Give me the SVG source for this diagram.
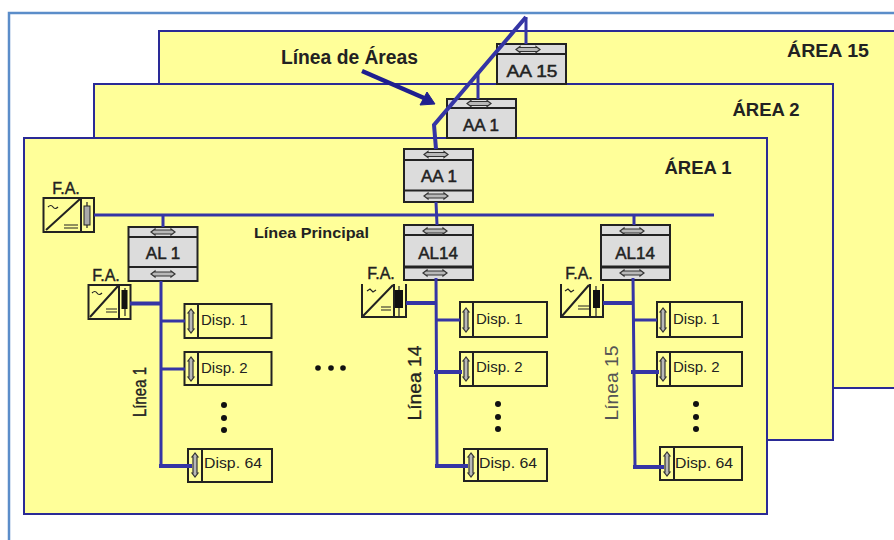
<svg xmlns="http://www.w3.org/2000/svg" width="894" height="540" viewBox="0 0 894 540">
<style>
text{font-family:"Liberation Sans",Arial,sans-serif;fill:#222}
.area{fill:#ffff99;stroke:#2a2a96;stroke-width:2}
.box{fill:#dcdcdc;stroke:#222;stroke-width:2}
.div{stroke:#222;stroke-width:2;fill:none}
.disp{fill:#ffff99;stroke:#222;stroke-width:2}
.bus{stroke:#3535a5;fill:none;stroke-width:3}
.bus2{stroke:#3535a5;fill:none;stroke-width:4}
.nm{font-size:17px;text-anchor:middle;stroke:#222;stroke-width:.5}
.ar{font-size:18.500px;font-weight:bold;text-anchor:middle}
.fa{font-size:16px;text-anchor:middle;stroke:#222;stroke-width:.4}
.dt{font-size:15px}
.li{font-size:18px;text-anchor:middle}
.ic{stroke:#222;stroke-width:1.2;fill:none}
.dot{fill:#111}
</style>
<defs>
<path id="ha" d="M-12,0L-8,-3V-2H8V-3L12,0L8,3V2H-8V3Z" fill="#b8b8b8" stroke="#333" stroke-width="1.2"/>
<path id="va" d="M0,-12L-3,-8H-2V8H-3L0,12L3,8H2V-8H3Z" fill="#b8b8b8" stroke="#333" stroke-width="1.2"/>
</defs>
<path d="M9,540V13H894" fill="none" stroke="#5b8dc9" stroke-width="2.500"/>
<g id="area15"><rect class="area" x="159" y="31" width="740" height="357"/><text class="ar" x="828" y="57" textLength="82" lengthAdjust="spacingAndGlyphs">ÁREA 15</text></g>
<g id="area2"><rect class="area" x="94" y="84" width="739" height="356"/><text class="ar" x="766" y="116">ÁREA 2</text></g>
<g id="area1"><rect class="area" x="24" y="138" width="743" height="376"/><text class="ar" x="698" y="174">ÁREA 1</text></g>

<text id="linea-areas" x="281" y="64" font-size="20" font-weight="bold" textLength="137" lengthAdjust="spacingAndGlyphs">Línea de Áreas</text>
<text id="linea-principal" x="254" y="238" font-size="15.500" font-weight="bold" textLength="115" lengthAdjust="spacingAndGlyphs">Línea Principal</text>

<g id="aa15"><rect class="box" x="497" y="44" width="69" height="40"/><path class="div" d="M497,54H566"/><use href="#ha" x="528" y="49.500"/><text class="nm" x="532" y="77" textLength="51" lengthAdjust="spacingAndGlyphs">AA 15</text></g>
<g id="aa1b"><rect class="box" x="447" y="99" width="69" height="39"/><path class="div" d="M447,108H516"/><use href="#ha" x="479" y="103.500"/><text class="nm" x="481" y="131">AA 1</text></g>
<g id="aa1"><rect class="box" x="404" y="149" width="69" height="53"/><path class="div" d="M404,160H473M404,190.500H473"/><use href="#ha" x="436" y="154.500"/><use href="#ha" x="436" y="196"/><text class="nm" x="439" y="182">AA 1</text></g>
<g id="al1"><rect class="box" x="128.500" y="227" width="69" height="54"/><path class="div" d="M128.500,237H197.500M128.500,267H197.500"/><use href="#ha" x="163" y="232"/><use href="#ha" x="163" y="274"/><text class="nm" x="163" y="259">AL 1</text></g>
<g id="al14a"><rect class="box" x="404" y="225" width="69" height="55"/><path class="div" d="M404,235H473"/><path class="div" style="stroke-width:3" d="M404,267H473"/><use href="#ha" x="435" y="231"/><use href="#ha" x="435" y="273"/><text class="nm" x="438" y="259">AL14</text></g>
<g id="al14b"><rect class="box" x="601" y="225" width="69" height="55"/><path class="div" d="M601,235H670"/><path class="div" style="stroke-width:3" d="M601,267H670"/><use href="#ha" x="632" y="231"/><use href="#ha" x="632" y="273"/><text class="nm" x="635" y="259">AL14</text></g>

<g id="fa-main"><text class="fa" x="66" y="194">F.A.</text><rect class="disp" x="43.500" y="198" width="50.500" height="34"/><path class="div" d="M81,198V232M46,230L80,199"/><path class="ic" d="M48,207q3,-3 5,0t5,0M64,225H78M64,228H78M87,202V228"/><rect x="84" y="206" width="6" height="19" fill="#aaa" stroke="#222"/></g>
<g id="fa-1"><text class="fa" x="106" y="281">F.A.</text><rect class="disp" x="88.500" y="285" width="42" height="34"/><path class="div" d="M119,285V319M90,317L118,286"/><path class="ic" d="M92,293q3,-3 5,0t5,0M106,309H117M106,312H117M125,288V316"/><rect x="121.500" y="290" width="6" height="19" fill="#111"/></g>
<g id="fa-14"><text class="fa" x="381" y="279">F.A.</text><rect x="362" y="284" width="44" height="33" fill="#ffff99"/><path class="div" d="M362,284V317H406V284M394,284V317M363,316L393,285"/><path class="ic" d="M367,291l3,-2 3,3 3,-2M381,307H391M381,310H391M399,286V316"/><rect x="395" y="290" width="8" height="18" fill="#111"/></g>
<g id="fa-15"><text class="fa" x="579" y="279">F.A.</text><rect x="561" y="284" width="42" height="33" fill="#ffff99"/><path class="div" d="M561,284V317H603V284M590,284V317M562,316L589,285"/><path class="ic" d="M565,291l3,-2 3,3 3,-2M578,306H589M578,309H589M596,286V316"/><rect x="593" y="290" width="7" height="18" fill="#111"/></g>

<g id="d1-1"><rect class="disp" x="184.500" y="304" width="87" height="34"/><path class="div" d="M198,304V338"/><use href="#va" x="191" y="321"/><text class="dt" x="201" y="325">Disp. 1</text></g>
<g id="d1-2"><rect class="disp" x="184.500" y="352" width="87" height="33"/><path class="div" d="M198,352V385"/><use href="#va" x="191" y="369"/><text class="dt" x="201" y="373">Disp. 2</text></g>
<g id="d1-64"><rect class="disp" x="188" y="449" width="84" height="33"/><path class="div" d="M202,449V482"/><use href="#va" x="195" y="465"/><text class="dt" x="204" y="468" textLength="58" lengthAdjust="spacingAndGlyphs">Disp. 64</text></g>
<g id="d2-1"><rect class="disp" x="460" y="302" width="87" height="35"/><path class="div" d="M473,302V337"/><use href="#va" x="466" y="320"/><text class="dt" x="476" y="324">Disp. 1</text></g>
<g id="d2-2"><rect class="disp" x="460" y="352" width="87" height="34"/><path class="div" d="M473,352V386"/><use href="#va" x="466" y="369"/><text class="dt" x="476" y="372">Disp. 2</text></g>
<g id="d2-64"><rect class="disp" x="464" y="449" width="83" height="32"/><path class="div" d="M478,449V481"/><use href="#va" x="471" y="465"/><text class="dt" x="479" y="468" textLength="58" lengthAdjust="spacingAndGlyphs">Disp. 64</text></g>
<g id="d3-1"><rect class="disp" x="657" y="302" width="85" height="35"/><path class="div" d="M670,302V337"/><use href="#va" x="663" y="320"/><text class="dt" x="673" y="324">Disp. 1</text></g>
<g id="d3-2"><rect class="disp" x="657" y="352" width="85" height="34"/><path class="div" d="M670,352V386"/><use href="#va" x="663" y="369"/><text class="dt" x="673" y="372">Disp. 2</text></g>
<g id="d3-64"><rect class="disp" x="660" y="447" width="82" height="33"/><path class="div" d="M674,447V480"/><use href="#va" x="667" y="464"/><text class="dt" x="675" y="468" textLength="58" lengthAdjust="spacingAndGlyphs">Disp. 64</text></g>

<g id="connectors">
<path class="bus2" d="M436,149L434,125L526,17"/>
<path class="bus" d="M526,17V44M478,72V99"/>
<path class="bus" d="M436,202L437,225M94,215H714M163,215V227M634,215V225"/>
<path class="bus" d="M161,281V466M161,321H185M161,369H185"/>
<path class="bus2" d="M130,303.500H161M159,466H192"/>
<path class="bus" d="M436,278L437,466M437,320H460"/>
<path class="bus2" d="M406,303H437M435,466H468M434,372H462"/>
<path class="bus" d="M633,278L635,466M634,320H657"/>
<path class="bus2" d="M603,303H634M633,467H664M631,372H659"/>
<path d="M362,71L424,98" stroke="#1f1f8f" stroke-width="4.500" fill="none"/>
<path d="M435,104L420,105L427,92Z" fill="#1f1f8f" stroke="#1f1f8f"/>
</g>

<text class="li" style="stroke:#222;stroke-width:.4" transform="translate(146,392) rotate(-90)" textLength="50" lengthAdjust="spacingAndGlyphs">Línea 1</text>
<text class="li" style="stroke:#222;stroke-width:.3" transform="translate(421,383) rotate(-90)" textLength="75" lengthAdjust="spacingAndGlyphs">Línea 14</text>
<text class="li" style="fill:#555" transform="translate(618,383) rotate(-90)" textLength="75" lengthAdjust="spacingAndGlyphs">Línea 15</text>
<g id="dots" class="dot">
<circle cx="318" cy="368" r="2.800"/><circle cx="331" cy="368" r="2.800"/><circle cx="343" cy="368" r="2.800"/>
<circle cx="224" cy="405" r="3"/><circle cx="224" cy="418" r="3"/><circle cx="224" cy="430" r="3"/>
<circle cx="498" cy="404" r="3"/><circle cx="498" cy="417" r="3"/><circle cx="498" cy="429" r="3"/>
<circle cx="696" cy="404" r="3"/><circle cx="696" cy="417" r="3"/><circle cx="696" cy="429" r="3"/>
</g>
</svg>
